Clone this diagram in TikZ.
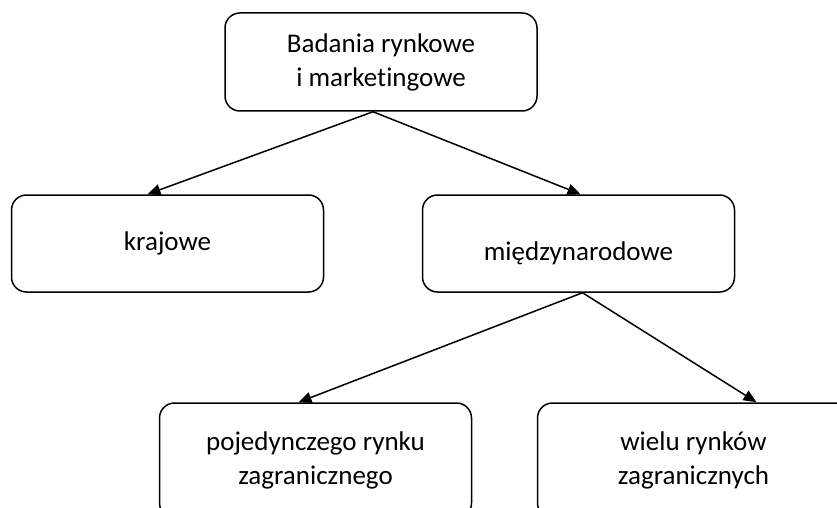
\documentclass[tikz,border=0pt]{standalone}
\usepackage{fontspec}
\setmainfont[Ligatures=NoCommon]{Carlito}
\usetikzlibrary{arrows.meta,positioning}

\begin{document}
\begin{tikzpicture}[x=1pt,y=-1pt,
  box/.style={draw,line width=1.5pt,rounded corners=15pt,minimum width=312pt,
    align=center,font=\fontsize{27}{34}\selectfont},
  link/.style={line width=1.5pt,-{Triangle[length=13pt,width=11pt]}}]
  \useasboundingbox (0,0) rectangle (837,508);
  \clip (0,0) rectangle (837,508);
  % Boxes
  \node[box,minimum height=98pt] (top) at (381,62) {Badania rynkowe\\i marketingowe};
  \node[box,minimum height=97pt] (krajowe) at (167.5,243.5) {krajowe};
  \node[box,minimum height=97pt] (miedzy) at (578.5,243.5)
    {\raisebox{-10pt}[\height][\depth]{międzynarodowe}};
  \node[box,minimum height=115pt] (pojed) at (315.5,460.5) {pojedynczego rynku\\zagranicznego};
  \node[box,minimum height=115pt] (wielu) at (693.5,460.5) {wielu rynków\\zagranicznych};
  % Arrows
  \draw[link] ([xshift=-8pt]top.south) -- ([xshift=-20pt]krajowe.north);
  \draw[link] ([xshift=-8pt]top.south) -- ([xshift=2pt]miedzy.north);
  \draw[link] ([xshift=4pt]miedzy.south) -- ([xshift=-17pt]pojed.north);
  \draw[link] ([xshift=4pt]miedzy.south) -- ([xshift=63pt]wielu.north);
\end{tikzpicture}
\end{document}
